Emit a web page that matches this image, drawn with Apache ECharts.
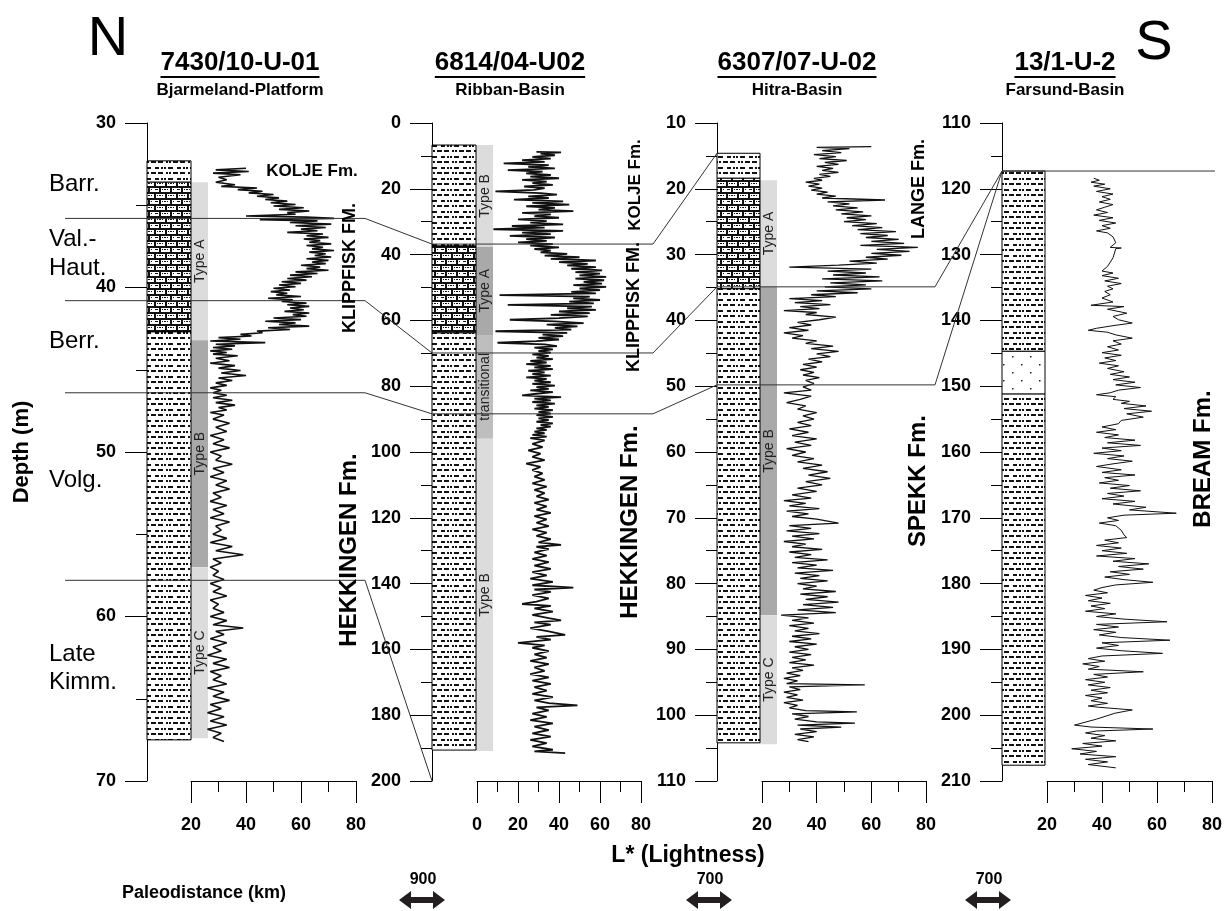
<!DOCTYPE html>
<html>
<head>
<meta charset="utf-8">
<script src="https://cdn.jsdelivr.net/npm/echarts@6/dist/echarts.min.js"></script>
<style>
  html, body { margin: 0; padding: 0; background: #fff; }
  #main { width: 1224px; height: 911px; }
</style>
</head>
<body>
<div id="main"></div>
<script>
// ---- data ----
const wells = ['7430/10-U-01', '6814/04-U02', '6307/07-U-02', '13/1-U-2'];
const basins = ['Bjarmeland-Platform', 'Ribban-Basin', 'Hitra-Basin', 'Farsund-Basin'];
const depthMin = [30, 0, 10, 110];
const depthMax = [70, 200, 110, 210];
const depthStep = [10, 20, 10, 10];
const lightMin = [20, 0, 20, 20];
const lightMax = [80, 80, 80, 80];

// lithology intervals: [top, base, kind]
const lithology = [
  [[32.3, 33.6, 'shale'], [33.6, 42.7, 'limestone'], [42.7, 67.5, 'shale']],
  [[6.7, 37.4, 'shale'], [37.4, 63.8, 'limestone'], [63.8, 190.6, 'shale']],
  [[14.6, 18.4, 'shale'], [18.4, 35.2, 'limestone'], [35.2, 104.2, 'shale']],
  [[117.3, 144.7, 'shale'], [144.7, 151.2, 'sandstone'], [151.2, 207.6, 'shale']]
];

// organic facies zones: [top, base, name]
const typeZones = [
  [[33.6, 43.2, 'Type A'], [43.2, 57.0, 'Type B'], [57.0, 67.4, 'Type C']],
  [[6.7, 37.6, 'Type B'], [37.6, 64.4, 'Type A'], [64.4, 96.0, 'transitional'], [96.0, 190.9, 'Type B']],
  [[18.7, 34.9, 'Type A'], [34.9, 84.8, 'Type B'], [84.8, 104.4, 'Type C']],
  []
];

// correlation ties: depth in each well (null = not reached)
const tieDepths = [
  [35.8, 36.8, 14.6, null],
  [40.8, 69.9, 34.9, 117.3],
  [46.4, 88.4, 49.8, 117.3],
  [57.8, 200, null, null]
];
const tieRunLast = [false, true, false, false];

const paleoDistances = ['900', '700', '700'];

// L* curves: [depth, L*]
const lstar1 = [
[32.75,40],[32.85,29],[32.95,41],[33.05,28],[33.15,38],[33.3,30],[33.45,33],[33.6,29],
[33.75,36],[33.85,31],[33.95,44],[34.05,37],[34.15,46],[34.25,41],[34.35,50],[34.45,44],[34.55,52],[34.65,47],[34.75,55],[34.85,49],[34.95,58],[35.05,50],[35.15,61],[35.25,52],[35.35,63],[35.45,55],[35.55,58],[35.65,40],[35.72,62],[35.8,72],[35.88,45],[35.95,66],[36.05,56],[36.15,71],[36.25,58],[36.35,69],[36.45,60],[36.55,66],[36.65,55],[36.75,68],[36.85,62],[36.95,70],[37.05,61],[37.15,67],[37.25,63],[37.35,71],[37.45,62],[37.55,68],[37.65,64],[37.75,72],[37.85,63],[37.95,69],[38.05,65],[38.15,71],[38.25,62],[38.35,70],[38.45,64],[38.55,69],[38.65,60],[38.75,67],[38.85,62],[38.95,70],[39.05,58],[39.15,66],[39.25,56],[39.35,64],[39.45,55],[39.55,62],[39.65,53],[39.75,60],[39.85,52],[39.95,58],[40.05,50],[40.15,56],[40.25,49],[40.35,55],[40.45,51],[40.55,60],[40.65,48],[40.75,57],[40.85,53],[40.95,62],[41.05,55],[41.15,63],[41.25,56],[41.35,61],[41.45,54],[41.55,63],[41.65,57],[41.75,62],[41.85,50],[41.95,60],[42.05,47],[42.15,58],[42.25,52],[42.35,63],[42.45,48],[42.55,56],[42.65,44],[42.75,46],[42.85,38],[42.95,42],[43.05,30],[43.15,38],[43.25,27],[43.35,47],[43.45,29],[43.55,36],[43.65,28],[43.75,35],[43.85,27],[43.95,33],[44.05,28],[44.15,37],[44.3,29],[44.45,34],[44.6,27],[44.75,36],[44.9,30],[45.05,38],[45.2,31],[45.35,40],[45.5,30],[45.65,35],[45.8,29],[45.95,33],[46.1,27],[46.25,31],[46.4,28],[46.55,33],[46.7,28],[46.85,35],[47.0,29],[47.15,36],[47.3,30],[47.45,33],[47.6,27],[47.75,32],
[48.0,28],[48.25,34],[48.5,29],[48.75,33],[49.0,27],[49.25,32],[49.5,28],[49.75,34],[50.0,27],[50.25,31],[50.5,29],[50.75,35],[51.0,28],[51.25,32],[51.5,27],[51.75,33],[52.0,29],[52.25,34],[52.5,28],[52.75,31],[53.0,27],[53.25,33],[53.5,28],[53.75,32],[54.0,27],[54.25,34],[54.5,29],[54.75,31],[55.0,28],[55.25,33],[55.5,27],[55.75,35],[56.0,29],[56.25,39],[56.5,28],[56.75,31],[57.0,27],[57.25,30],[57.5,28],[57.75,32],[58.0,27],[58.25,31],[58.5,28],[58.75,33],[59.0,27],[59.25,30],[59.5,28],[59.75,32],[60.0,27],[60.25,33],[60.5,28],[60.7,39],[60.9,29],[61.1,32],[61.35,27],[61.6,33],[61.85,28],[62.1,31],[62.35,26],[62.6,33],[62.85,28],[63.1,34],[63.35,27],[63.6,31],[63.85,28],[64.1,33],[64.35,26],[64.6,32],[64.85,28],[65.1,34],[65.35,27],[65.6,31],[65.85,26],[66.1,32],[66.35,27],[66.6,33],[66.85,26],[67.1,31],[67.35,28],[67.6,32]
];

const lstar2 = [
[8.8,29],[8.9,41],[9.3,31],[9.8,38],[10.3,27],[10.8,36],[11.3,22],[11.8,33],[12.3,13],[12.8,35],[13.3,25],[13.8,38],[14.3,15],[14.8,32],[15.3,24],[15.8,36],[16.3,26],[16.8,40],[17.3,22],[17.8,34],[18.3,27],[18.8,37],[19.3,23],[19.8,33],[20.3,28],[20.8,9],[21.3,31],[21.8,39],[22.3,25],[22.8,35],[23.3,18],[23.8,42],[24.3,27],[24.8,45],[25.3,24],[25.8,38],[26.3,30],[26.8,47],[27.3,22],[27.8,36],[28.3,28],[28.8,40],[29.3,20],[29.8,34],[30.3,26],[30.8,42],[31.3,17],[31.8,33],[32.3,8],[32.8,42],[33.3,22],[33.8,36],[34.3,16],[34.8,38],[35.3,24],[35.8,34],[36.3,20],[36.8,37],[37.3,26],[37.8,40],[38.3,28],[38.8,36],[39.3,31],[39.8,44],[40.3,33],[40.8,50],[41.3,36],[41.8,58],[42.3,40],[42.8,54],[43.3,44],[43.8,58],[44.3,46],[44.8,61],[45.3,48],[45.8,60],[46.3,50],[46.8,63],[47.3,48],[47.8,62],[48.3,52],[48.8,61],[49.3,47],[49.8,63],[50.3,50],[50.8,60],[51.3,46],[51.8,58],[52.3,11],[52.8,55],[53.3,47],[53.8,60],[54.3,45],[54.8,57],[55.3,15],[55.8,56],[56.3,44],[56.8,58],[57.3,40],[57.8,55],[58.3,36],[58.8,54],[59.3,40],[59.8,16],[60.3,38],[60.8,52],[61.3,34],[61.8,49],[62.3,38],[62.8,46],[63.3,9],[63.8,44],[64.3,32],[64.8,42],[65.3,30],[65.8,40],[66.3,29],[66.8,10],[67.3,33],[67.8,39],[68.3,28],[68.8,37],[69.3,30],[69.8,36],[70.3,27],[70.8,35],[71.3,29],[71.8,37],[72.3,26],[72.8,34],[73.3,24],[73.8,36],[74.3,28],[74.8,37],[75.3,25],[75.8,33],[76.3,27],[76.8,36],[77.3,24],[77.8,34],[78.3,28],[78.8,36],[79.3,27],[79.8,38],[80.3,29],[80.8,35],[81.3,26],[81.8,37],[82.3,29],[82.8,22],[83.3,41],[83.8,28],[84.3,36],[84.8,27],[85.3,38],[85.8,29],[86.3,35],[86.8,28],[87.3,37],[87.8,30],[88.3,36],[88.8,29],[89.3,37],[89.8,30],[90.3,35],[90.8,29],[91.3,37],[91.8,31],[92.3,36],[92.8,29],[93.3,34],[93.8,28],[94.3,33],[94.8,27],[95.3,34],[95.8,26],[96.5,33],[97.5,27],[98.5,32],[99.5,25],[100.5,31],[101.5,27],[102.5,33],[103.5,24],[104.5,31],[105.5,27],[106.5,32],[107.5,28],[108.5,33],[109.5,27],[110.5,34],[111.5,28],[112.5,33],[113.5,29],[114.5,35],[115.5,28],[116.5,34],[117.5,29],[118.5,36],[119.5,28],[120.5,34],[121.5,29],[122.5,35],[123.5,27],[124.5,34],[125.5,29],[126.5,36],[127.5,30],[128.2,41],[128.8,29],[129.5,35],[130.5,28],[131.5,34],[132.5,27],[133.5,35],[134.5,28],[135.5,36],[136.5,27],[137.5,34],[138.5,26],[139.5,37],[140.5,27],[141.2,47],[141.8,28],[142.5,36],[143.5,27],[144.5,35],[145.5,29],[146.2,22],[146.8,36],[147.5,28],[148.5,37],[149.5,27],[150.5,35],[151.2,41],[151.8,28],[152.5,36],[153.5,26],[154.5,35],[155.6,43],[156.2,29],[157.0,36],[158.0,20],[158.8,33],[159.5,27],[160.5,35],[161.5,28],[162.5,34],[163.5,26],[164.5,35],[165.5,28],[166.5,33],[167.5,26],[168.5,35],[169.5,27],[170.5,36],[171.5,28],[172.5,34],[173.5,27],[174.5,37],[175.5,28],[176.3,35],[177.0,49],[177.6,29],[178.5,35],[179.5,27],[180.5,34],[181.5,26],[182.5,37],[183.5,28],[184.5,35],[185.5,27],[186.5,36],[187.5,26],[188.5,34],[189.5,27],[190.5,37],[191.0,28],[191.5,43]
];

const lstar3 = [
[13.6,60],[13.7,40],[13.9,52],[14.2,42],[14.5,49],[14.8,39],[15.1,47],[15.4,41],[15.7,51],[16.0,43],[16.3,48],[16.6,40],[16.9,46],[17.2,42],[17.5,48],[17.8,41],[18.1,45],[18.4,39],[18.7,42],[19.0,36],[19.3,41],[19.6,37],[19.9,42],[20.2,38],[20.5,44],[20.8,40],[21.1,47],[21.4,42],[21.7,65],[22.0,44],[22.3,52],[22.6,46],[22.9,55],[23.2,47],[23.5,57],[23.8,49],[24.1,60],[24.4,51],[24.7,58],[25.0,50],[25.3,62],[25.6,53],[25.9,64],[26.2,55],[26.5,69],[26.8,56],[27.1,66],[27.4,58],[27.7,70],[28.0,60],[28.3,72],[28.6,56],[28.9,77],[29.2,62],[29.5,74],[29.8,60],[30.1,71],[30.4,58],[30.7,66],[31.0,52],[31.3,62],[31.6,48],[31.9,30],[32.2,60],[32.5,44],[32.8,58],[33.1,46],[33.4,63],[33.7,42],[34.0,64],[34.3,45],[34.6,58],[34.9,43],[35.2,60],[35.5,40],[35.8,55],[36.1,38],[36.4,47],[36.7,30],[37.0,42],[37.3,32],[37.6,45],[37.9,34],[38.2,41],[38.5,28],[38.8,40],[39.1,36],[39.5,47],[39.9,41],[40.3,33],[40.7,38],[41.1,30],[41.5,37],[41.9,28],[42.3,35],[42.7,31],[43.1,40],[43.5,36],[43.9,46],[44.3,38],[44.7,48],[45.1,40],[45.5,45],[45.9,37],[46.3,42],[46.7,35],[47.1,40],[47.5,34],[47.9,39],[48.3,35],[48.7,41],[49.1,36],[49.6,39],[50.1,35],[50.6,38],[51.0,28],[51.5,38],[52.0,34],[52.5,29],[53.0,36],[53.5,33],[54.0,40],[54.5,35],[55.0,39],[55.5,33],[56.0,38],[56.5,30],[57.0,37],[57.5,31],[58.0,40],[58.5,32],[59.0,38],[59.5,29],[60.0,36],[60.5,31],[61.0,39],[61.5,33],[62.0,42],[62.5,35],[63.0,44],[63.5,37],[64.0,45],[64.5,36],[65.0,42],[65.5,33],[66.0,40],[66.5,31],[67.0,38],[67.4,28],[67.8,36],[68.2,30],[68.6,41],[69.0,29],[69.4,37],[69.8,31],[70.2,40],[70.8,48],[71.2,30],[71.6,38],[72.0,29],[72.4,41],[72.8,31],[73.2,39],[73.6,28],[74.0,36],[74.4,31],[74.8,42],[75.2,30],[75.6,38],[76.0,32],[76.4,44],[76.8,31],[77.2,40],[77.6,33],[78.0,46],[78.4,32],[78.8,41],[79.2,34],[79.6,44],[80.0,33],[80.4,40],[80.8,35],[81.2,47],[81.6,34],[82.0,44],[82.4,36],[82.8,48],[83.2,35],[83.6,46],[84.0,33],[84.4,47],[84.8,27],[85.2,37],[85.6,31],[86.0,39],[86.4,30],[86.8,37],[87.2,32],[87.6,41],[88.0,31],[88.4,38],[88.8,30],[89.2,40],[89.6,32],[90.0,37],[90.4,30],[90.8,38],[91.2,31],[91.6,36],[92.0,30],[92.4,39],[92.8,31],[93.2,35],[93.6,29],[94.0,34],[94.4,28],[94.8,33],[95.2,29],[95.4,57.6],[95.7,30],[96.1,34],[96.5,28],[96.9,33],[97.3,29],[97.7,35],[98.1,28],[98.5,33],[98.9,30],[99.3,36],[99.5,54.7],[99.8,31],[100.2,37],[100.6,32],[101.0,40],[101.2,54],[101.5,33],[101.8,49],[102.1,34],[102.5,40],[102.9,32],[103.3,39],[103.7,33],[104.0,37]
];

const lstar4 = [
[118.4,37],[118.7,39],[119.0,36],[119.3,41],[119.6,37],[120.0,43],[120.4,38],[120.8,44],[121.2,40],[121.6,43],[122.0,39],[122.4,44],[122.8,41],[123.2,38],[123.6,42],[124.0,37],[124.4,44],[124.8,39],[125.2,45],[125.6,40],[126.0,43],[126.4,38],[126.7,42],[127.3,44],[128.2,45],[128.9,43],[129.0,47],[129.1,45],[130.5,44],[131.8,42],[132.5,40],[132.8,44],[133.2,40],[133.6,46],[134.0,41],[134.4,47],[134.8,42],[135.2,44],[135.6,41],[136.1,43],[136.6,40],[137.2,44],[137.7,36],[137.9,48],[138.3,42],[138.9,49],[139.4,44],[139.9,46],[140.4,51],[140.8,44],[141.2,38],[141.5,35],[141.8,42],[142.2,45],[142.7,51],[143.1,44],[143.6,47],[144.0,42],[144.5,46],[144.9,40],[145.3,47],[145.7,41],[146.1,45],[146.5,39],[146.9,46],[147.3,42],[147.8,48],[148.2,43],[148.6,50],[149.0,44],[149.4,52],[149.8,45],[150.2,54],[150.6,46],[151.0,43],[151.3,38],[151.6,45],[152.0,44],[152.3,50],[152.6,47],[153.0,56],[153.4,48],[153.8,58],[154.2,49],[154.7,55],[155.2,47],[155.7,46],[156.2,40],[156.6,45],[157.0,38],[157.4,46],[157.8,41],[158.2,52],[158.6,42],[159.0,54],[159.4,40],[159.8,47],[160.2,37],[160.6,48],[161.0,42],[161.4,51],[161.8,44],[162.2,38],[162.7,47],[163.1,40],[163.5,52],[163.9,41],[164.3,46],[164.7,39],[165.1,50],[165.5,43],[165.9,54],[166.3,42],[166.7,48],[167.1,40],[167.5,52],[167.9,44],[168.4,56],[168.8,50],[169.3,67],[169.6,48],[170.0,42],[170.4,46],[170.8,39],[171.2,45],[171.9,47],[172.6,48],[173.0,49],[173.4,41],[173.8,46],[174.2,38],[174.6,47],[175.0,40],[175.4,49],[175.8,38],[176.2,52],[176.6,44],[177.0,57],[177.4,46],[177.8,55],[178.2,43],[178.6,50],[179.0,41],[179.4,48],[179.8,58.5],[180.2,45],[180.6,40],[181.0,37],[181.4,42],[181.8,34],[182.2,40],[182.6,35],[183.0,43],[183.4,36],[183.8,41],[184.2,34],[184.6,45],[185.0,38],[185.4,48],[185.8,63.6],[186.2,38],[186.6,46],[187.0,37],[187.4,45],[187.8,39],[188.2,47],[188.6,64.7],[189.0,40],[189.4,46],[189.8,38],[190.2,47],[190.6,62],[191.0,40],[191.4,35],[191.8,41],[192.2,33],[192.6,39],[193.0,35],[193.4,55],[193.8,37],[194.2,42],[194.6,34],[195.0,41],[195.4,35],[195.8,43],[196.2,36],[196.6,42],[197.0,34],[197.4,40],[197.8,36],[198.2,42],[198.6,35],[198.8,39],[199.2,51],[199.7,44.7],[200.6,38],[201.5,30],[201.8,36],[202.1,58.5],[202.4,38],[202.7,34],[203.1,41],[203.5,36],[203.9,45],[204.3,33],[204.7,40],[205.1,29],[205.5,38],[205.9,32],[206.3,45],[206.7,34],[207.1,42],[207.5,35],[208.0,45]
];
const curves = [lstar1, lstar2, lstar3, lstar4];

// ---- layout & style ----
const FONT = '"Liberation Sans", Arial, Helvetica, sans-serif';
const panels = [
  { colLeft: 147, colW: 61, split: 44 / 61, curveLeft: 191, curveW: 165, runFrom: 65, runTo: 365 },
  { colLeft: 432, colW: 61, split: 44 / 61, curveLeft: 477, curveW: 164, runFrom: 432, runTo: 653 },
  { colLeft: 717, colW: 60, split: 43 / 60, curveLeft: 762, curveW: 164, runFrom: 717, runTo: 935 },
  { colLeft: 1002, colW: 43, split: 1, curveLeft: 1047, curveW: 165, runFrom: 1002, runTo: 1215 }
];
const plotTop = 123, plotH = 658;
const typeShade = [
  ['#dcdcdc', '#a9a9a9', '#dcdcdc'],
  ['#dcdcdc', '#a9a9a9', '#bebebe', '#dcdcdc'],
  ['#dcdcdc', '#a9a9a9', '#dcdcdc'],
  []
];
const curveWidth = [1.6, 1.8, 1.3, 1.0];
const lithKinds = ['shale', 'limestone', 'sandstone'];

function makeCanvas(w, h) {
  const c = document.createElement('canvas');
  c.width = w; c.height = h;
  const g = c.getContext('2d');
  g.fillStyle = '#fff';
  g.fillRect(0, 0, w, h);
  return [c, g];
}
function shalePattern() {
  const [c, g] = makeCanvas(22, 11);
  g.fillStyle = '#111';
  g.fillRect(1, 2, 4, 2); g.fillRect(7, 2, 2, 2); g.fillRect(10, 2, 2, 2); g.fillRect(14, 2, 5, 2);
  g.fillRect(0, 7, 2, 2); g.fillRect(4, 7, 5, 2); g.fillRect(12, 7, 2, 2); g.fillRect(15, 7, 2, 2); g.fillRect(19, 7, 3, 2);
  return c;
}
function limePattern() {
  const [c, g] = makeCanvas(22, 12);
  g.fillStyle = '#111';
  g.fillRect(0, 0, 22, 2); g.fillRect(0, 6, 22, 2);
  g.fillRect(0, 0, 2, 6); g.fillRect(11, 0, 2, 6);
  g.fillRect(5, 6, 2, 6); g.fillRect(16, 6, 2, 6);
  g.fillRect(3, 3, 1, 1); g.fillRect(5, 3, 2, 1); g.fillRect(8, 3, 1, 1);
  g.fillRect(14, 3, 1, 1); g.fillRect(16, 3, 2, 1); g.fillRect(19, 3, 1, 1);
  g.fillRect(8, 9, 1, 1); g.fillRect(10, 9, 2, 1); g.fillRect(13, 9, 1, 1);
  g.fillRect(19, 9, 1, 1); g.fillRect(1, 9, 2, 1); g.fillRect(3, 9, 1, 1);
  return c;
}
function sandPattern() {
  const [c, g] = makeCanvas(18, 16);
  g.fillStyle = '#222';
  g.fillRect(4, 4, 1.5, 1.5); g.fillRect(13, 12, 1.5, 1.5);
  return c;
}
const patterns = [shalePattern(), limePattern(), sandPattern()].map(c => ({ image: c, repeat: 'repeat' }));

const grids = [], xAxes = [], yAxes = [], series = [];
panels.forEach((p, i) => {
  grids.push({ left: p.colLeft, top: plotTop, width: p.colW, height: plotH, outerBoundsMode: 'none' });
  grids.push({ left: p.curveLeft, top: plotTop, width: p.curveW, height: plotH, outerBoundsMode: 'none' });
  xAxes.push({ gridIndex: 2 * i, type: 'value', min: 0, max: 1, show: false });
  xAxes.push({
    gridIndex: 2 * i + 1, type: 'value', position: 'bottom',
    min: lightMin[i], max: lightMax[i], interval: 20,
    axisLine: { show: true, onZero: false, lineStyle: { color: '#000', width: 1 } },
    axisTick: { show: true, length: 22, lineStyle: { color: '#000', width: 1 } },
    minorTick: { show: true, splitNumber: 2, length: 11, lineStyle: { color: '#000', width: 1 } },
    splitLine: { show: false },
    axisLabel: { margin: 35, color: '#000', fontSize: 18, fontWeight: 'bold', fontFamily: FONT }
  });
  yAxes.push({
    gridIndex: 2 * i, type: 'value', inverse: true, position: 'left',
    min: depthMin[i], max: depthMax[i], interval: depthStep[i],
    axisLine: { show: true, onZero: false, lineStyle: { color: '#000', width: 1 } },
    axisTick: { show: true, length: 22, lineStyle: { color: '#000', width: 1 } },
    minorTick: { show: true, splitNumber: 2, length: 11, lineStyle: { color: '#000', width: 1 } },
    splitLine: { show: false },
    axisLabel: { margin: 31, color: '#000', fontSize: 18, fontWeight: 'bold', fontFamily: FONT }
  });
  yAxes.push({ gridIndex: 2 * i + 1, type: 'value', inverse: true, min: depthMin[i], max: depthMax[i], show: false });

  series.push({
    type: 'custom', xAxisIndex: 2 * i, yAxisIndex: 2 * i, silent: true, z: 2,
    data: lithology[i].map(l => [l[0], l[1], lithKinds.indexOf(l[2])]),
    renderItem: (params, api) => {
      const a = api.coord([0, api.value(0)]);
      const b = api.coord([p.split, api.value(1)]);
      return {
        type: 'rect',
        shape: { x: a[0], y: a[1], width: b[0] - a[0], height: b[1] - a[1] },
        style: { fill: patterns[api.value(2)], stroke: '#000', lineWidth: 1 }
      };
    }
  });
  if (typeZones[i].length) {
    series.push({
      type: 'custom', xAxisIndex: 2 * i, yAxisIndex: 2 * i, silent: true, z: 1,
      data: typeZones[i].map((t, k) => [t[0], t[1], k]),
      renderItem: (params, api) => {
        const k = api.value(2);
        const a = api.coord([p.split, api.value(0)]);
        const b = api.coord([1, api.value(1)]);
        return {
          type: 'group',
          children: [
            { type: 'rect', shape: { x: a[0], y: a[1], width: b[0] - a[0], height: b[1] - a[1] },
              style: { fill: typeShade[i][k] } },
            { type: 'text', x: (a[0] + b[0]) / 2 + 0.5, y: (a[1] + b[1]) / 2, rotation: Math.PI / 2,
              style: { text: typeZones[i][k][2], fill: '#222', font: '14px ' + FONT,
                       align: 'center', verticalAlign: 'middle', textAlign: 'center', textVerticalAlign: 'middle' } }
          ]
        };
      }
    });
  }
  series.push({
    type: 'line', xAxisIndex: 2 * i + 1, yAxisIndex: 2 * i + 1, silent: true, z: 3,
    showSymbol: false, symbol: 'none', clip: false,
    lineStyle: { color: '#111', width: curveWidth[i] },
    data: curves[i].map(d => [d[1], d[0]])
  });
});

const chart = echarts.init(document.getElementById('main'), null, { renderer: 'canvas' });
chart.setOption({
  animation: false,
  backgroundColor: '#fff',
  grid: grids, xAxis: xAxes, yAxis: yAxes, series: series
});

// ---- annotations ----
const measure = document.createElement('canvas').getContext('2d');
function txt(text, x, y, size, weight, rot, align) {
  return {
    type: 'text', x: x, y: y, rotation: rot || 0, z: 100, silent: true,
    style: {
      text: text, fill: '#000', font: (weight || 'normal') + ' ' + size + 'px ' + FONT,
      align: align || 'center', verticalAlign: 'middle',
      textAlign: align || 'center', textVerticalAlign: 'middle'
    }
  };
}
const els = [];
els.push(txt('N', 108, 40, 56));
els.push(txt('S', 1154, 44, 56));
const titleX = [240, 510, 797, 1065];
wells.forEach((w, i) => {
  els.push(txt(w, titleX[i], 63, 26, 'bold'));
  measure.font = 'bold 26px ' + FONT;
  const tw = measure.measureText(w).width;
  els.push({ type: 'line', z: 100, silent: true,
    shape: { x1: titleX[i] - tw / 2, y1: 77, x2: titleX[i] + tw / 2, y2: 77 },
    style: { stroke: '#000', lineWidth: 2 } });
  els.push(txt(basins[i], titleX[i], 90, 17, 'bold'));
});
els.push(txt('KOLJE Fm.', 312, 171, 17, 'bold'));
[['KLIPPFISK FM.', 350, 268, 18], ['HEKKINGEN Fm.', 349, 550, 24],
 ['KOLJE Fm.', 635, 185, 17], ['KLIPPFISK FM.', 634, 307, 18], ['HEKKINGEN Fm.', 630, 522, 24],
 ['LANGE Fm.', 919, 189, 18], ['SPEKK Fm.', 918, 481, 24], ['BREAM Fm.', 1203, 459, 24]
].forEach(f => els.push(txt(f[0], f[1], f[2], f[3], 'bold', Math.PI / 2)));
[['Barr.', 184], ['Val.-', 239], ['Haut.', 268], ['Berr.', 341], ['Volg.', 480], ['Late', 654], ['Kimm.', 682]]
  .forEach(s => els.push(txt(s[0], 49, s[1], 24, 'normal', 0, 'left')));
els.push(txt('Depth (m)', 22, 452, 22, 'bold', Math.PI / 2));
els.push(txt('L* (Lightness)', 688, 856, 23, 'bold'));
els.push(txt('Paleodistance (km)', 204, 893, 18, 'bold'));
const arrowX = [422, 709, 988];
paleoDistances.forEach((d, i) => {
  const cx = arrowX[i], cy = 900;
  els.push(txt(d, cx + 1, 880, 16, 'bold'));
  els.push({ type: 'polygon', z: 100, silent: true,
    shape: { points: [[cx - 23, cy], [cx - 11, cy - 9], [cx - 11, cy - 3], [cx + 11, cy - 3], [cx + 11, cy - 9],
                      [cx + 23, cy], [cx + 11, cy + 9], [cx + 11, cy + 3], [cx - 11, cy + 3], [cx - 11, cy + 9]] },
    style: { fill: '#231f20' } });
});

// correlation lines between wells
tieDepths.forEach((ties, t) => {
  const pts = [];
  let last = -1;
  ties.forEach((d, i) => { if (d !== null) last = i; });
  ties.forEach((d, i) => {
    if (d === null) return;
    const y = chart.convertToPixel({ yAxisIndex: 2 * i }, d);
    pts.push([panels[i].runFrom, y]);
    if (i < last || tieRunLast[t]) pts.push([panels[i].runTo, y]);
  });
  els.push({ type: 'polyline', z: 90, silent: true, shape: { points: pts },
    style: { stroke: '#333', lineWidth: 1, fill: null } });
});

chart.setOption({ graphic: { elements: els } });
</script>
</body>
</html>
